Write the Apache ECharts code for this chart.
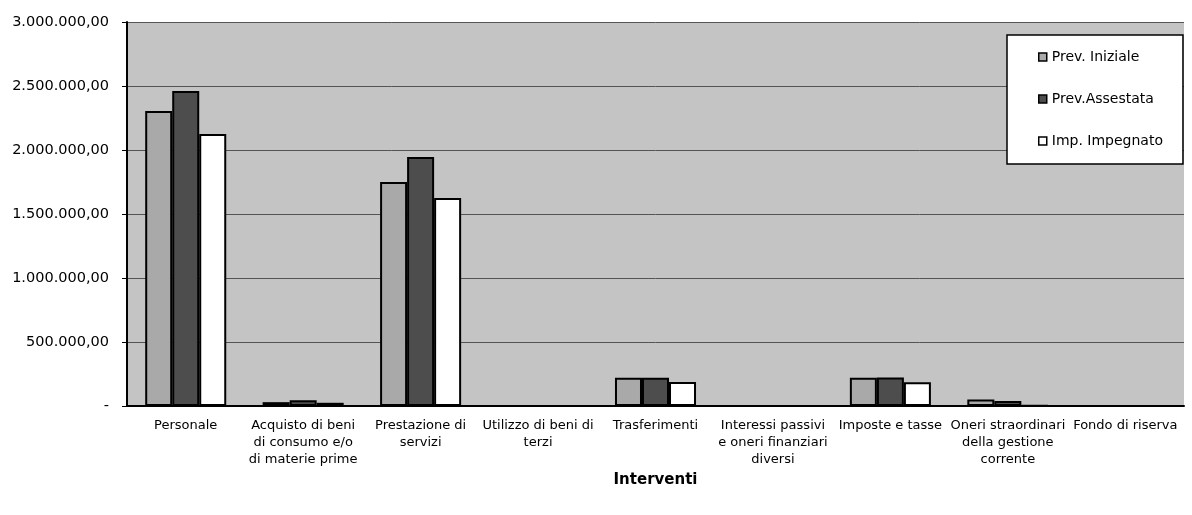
<!DOCTYPE html>
<html><head><meta charset="utf-8">
<script src="https://cdn.jsdelivr.net/npm/echarts@6/dist/echarts.min.js"></script>
<style>html,body{margin:0;padding:0;background:#fff}#c{width:1192px;height:515px}</style>
</head><body><div id="c"></div>
<script>
const categories = [
  'Personale',
  'Acquisto di beni\ndi consumo e/o\ndi materie prime',
  'Prestazione di\nservizi',
  'Utilizzo di beni di\nterzi',
  'Trasferimenti',
  'Interessi passivi\ne oneri finanziari\ndiversi',
  'Imposte e tasse',
  'Oneri straordinari\ndella gestione\ncorrente',
  'Fondo di riserva'
];
const seriesNames = ['Prev. Iniziale', 'Prev.Assestata', 'Imp. Impegnato'];
const prevIniziale   = [2305000, 30000, 1750000, 0, 220000, 0, 220000, 50000, 0];
const prevAssestata  = [2460000, 45000, 1945000, 0, 220000, 0, 222000, 40000, 0];
const impImpegnato   = [2125000, 25000, 1625000, 0, 188000, 0, 185000, 5000, 0];
const yTicks = [0, 500000, 1000000, 1500000, 2000000, 2500000, 3000000];

function fmt(v){
  if (v === 0) return '-';
  return Math.round(v).toString().replace(/\B(?=(\d{3})+(?!\d))/g, '.') + ',00';
}
const colors = ['#a9a9a9', '#4d4d4d', '#ffffff'];
const chart = echarts.init(document.getElementById('c'), null, {renderer:'canvas'});
const mk = (name, data, i) => ({
  name, type:'bar', data,
  barGap: '0%', barCategoryGap: '31%',
  itemStyle:{color: colors[i], borderColor:'#000', borderWidth:2},
  emphasis:{disabled:true}
});
chart.setOption({
  animation:false,
  backgroundColor:'#fff',
  grid:{left:127, right:8, top:22, bottom:109, show:true, backgroundColor:'#c4c4c4', borderWidth:0},
  legend:{
    orient:'vertical', left:1007, top:35,
    backgroundColor:'#fff', borderColor:'#000', borderWidth:1.5,
    padding:[15, 20, 16, 31], itemGap:28,
    itemWidth:8, itemHeight:8, icon:'rect',
    itemStyle:{borderColor:'#000', borderWidth:1.5},
    textStyle:{fontFamily:'DejaVu Sans', fontSize:14, color:'#000', padding:[0,0,0,0]},
    data: seriesNames
  },
  xAxis:{
    type:'category', data:categories,
    name:'Interventi', nameLocation:'middle', nameGap:64,
    nameTextStyle:{fontFamily:'DejaVu Sans', fontWeight:'bold', fontSize:15, color:'#000'},
    axisLine:{lineStyle:{color:'#000', width:2}},
    axisTick:{show:false},
    axisLabel:{interval:0, fontFamily:'DejaVu Sans', fontSize:13, color:'#000', lineHeight:17, margin:11}
  },
  yAxis:{
    type:'value', min:0, max:3000000, interval:500000,
    axisLine:{show:true, lineStyle:{color:'#000', width:2}},
    axisTick:{show:true, length:5, lineStyle:{color:'#000'}},
    splitLine:{show:true, lineStyle:{color:'#555', width:1}},
    axisLabel:{formatter:fmt, fontFamily:'DejaVu Sans', fontSize:14.5, color:'#000', margin:18}
  },
  series:[
    mk(seriesNames[0], prevIniziale, 0),
    mk(seriesNames[1], prevAssestata, 1),
    mk(seriesNames[2], impImpegnato, 2)
  ]
});
</script></body></html>
